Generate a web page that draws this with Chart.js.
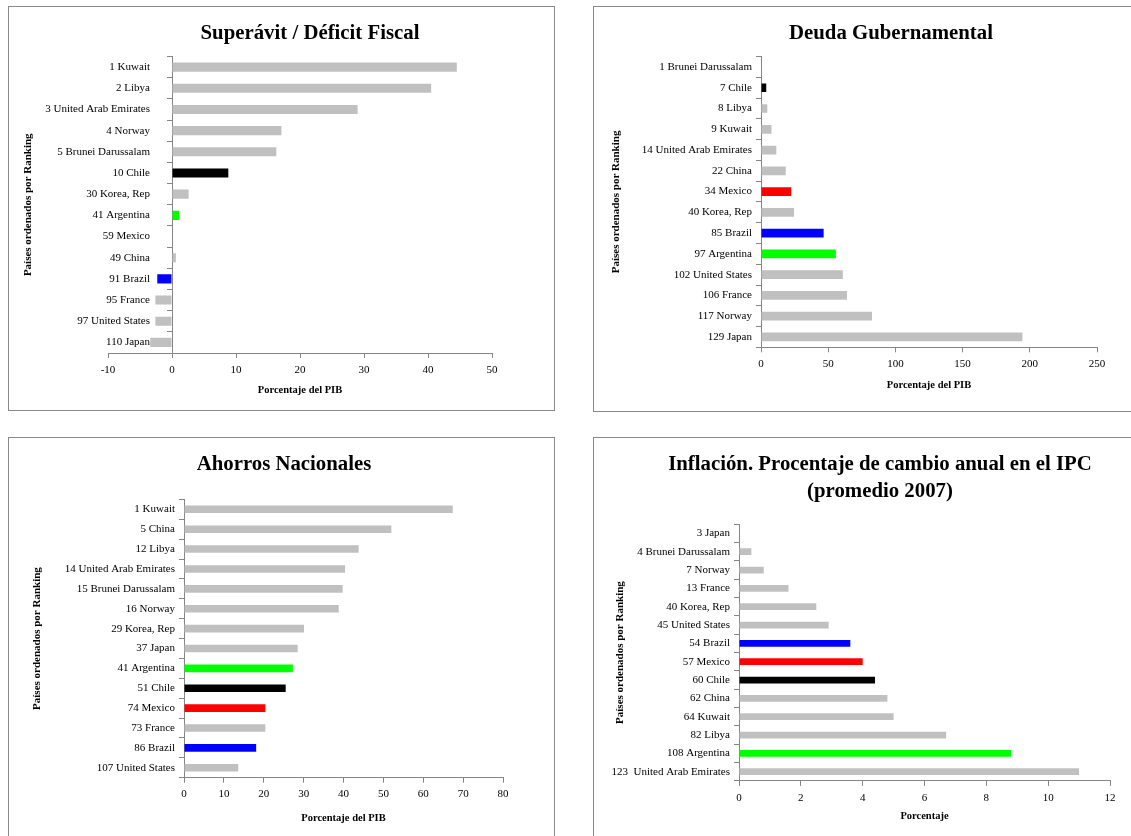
<!DOCTYPE html>
<html>
<head>
<meta charset="utf-8">
<script src="https://cdn.jsdelivr.net/npm/chart.js@4.4.1/dist/chart.umd.min.js"></script>
<style>
  html, body { margin: 0; padding: 0; background: #fff; width: 1131px; height: 836px; overflow: hidden; }
  .frame { position: absolute; border: 1px solid #8a8a8a; box-sizing: border-box; }
  canvas { position: absolute; }
</style>
</head>
<body>
<div class="frame" style="left:8px;top:6px;width:547px;height:405px"></div>
<div class="frame" style="left:593px;top:6px;width:547px;height:406px"></div>
<div class="frame" style="left:8px;top:437px;width:547px;height:420px"></div>
<div class="frame" style="left:593px;top:437px;width:547px;height:420px"></div>
<canvas id="fiscal"></canvas>
<canvas id="debt"></canvas>
<canvas id="savings"></canvas>
<canvas id="inflation"></canvas>
<script>
// ---- Superávit / Déficit Fiscal (% del PIB)
const fiscalLabels = ['1 Kuwait', '2 Libya', '3 United Arab Emirates', '4 Norway', '5 Brunei Darussalam',
  '10 Chile', '30 Korea, Rep', '41 Argentina', '59 Mexico', '49 China', '91 Brazil', '95 France',
  '97 United States', '110 Japan'];
const fiscalValues = [44.5, 40.5, 29.0, 17.1, 16.3, 8.8, 2.6, 1.1, 0, 0.6, -2.3, -2.6, -2.6, -3.4];
const fiscalTicks = [-10, 0, 10, 20, 30, 40, 50];

// ---- Deuda Gubernamental (% del PIB)
const debtLabels = ['1 Brunei Darussalam', '7 Chile', '8 Libya', '9 Kuwait', '14 United Arab Emirates',
  '22 China', '34 Mexico', '40 Korea, Rep', '85 Brazil', '97 Argentina', '102 United States',
  '106 France', '117 Norway', '129 Japan'];
const debtValues = [0, 3.9, 4.7, 7.8, 11.4, 18.4, 22.5, 24.6, 46.6, 55.7, 60.9, 64.0, 82.6, 194.5];
const debtTicks = [0, 50, 100, 150, 200, 250];

// ---- Ahorros Nacionales (% del PIB)
const savingsLabels = ['1 Kuwait', '5 China', '12 Libya', '14 United Arab Emirates', '15 Brunei Darussalam',
  '16 Norway', '29 Korea, Rep', '37 Japan', '41 Argentina', '51 Chile', '74 Mexico', '73 France',
  '86 Brazil', '107 United States'];
const savingsValues = [67.4, 52.0, 43.8, 40.4, 39.8, 38.8, 30.1, 28.5, 27.3, 25.5, 20.4, 20.4, 18.1, 13.6];
const savingsTicks = [0, 10, 20, 30, 40, 50, 60, 70, 80];

// ---- Inflación, % de cambio anual en el IPC (promedio 2007)
const inflationLabels = ['3 Japan', '4 Brunei Darussalam', '7 Norway', '13 France', '40 Korea, Rep',
  '45 United States', '54 Brazil', '57 Mexico', '60 Chile', '62 China', '64 Kuwait', '82 Libya',
  '108 Argentina', '123  United Arab Emirates'];
const inflationValues = [0, 0.4, 0.8, 1.6, 2.5, 2.9, 3.6, 4.0, 4.4, 4.8, 5.0, 6.7, 8.8, 11.0];
const inflationTicks = [0, 2, 4, 6, 8, 10, 12];

// Highlighted countries; every other bar is grey
const highlight = { Chile: '#000000', Argentina: '#00ff00', Brazil: '#0000ff', Mexico: '#ff0000' };
const GREY = '#c0c0c0';
const AXIS = '#868686';
const SERIF = "'Times New Roman', 'Liberation Serif', serif";
const TICK_SIZE = 11;
const AXIS_SIZE = 10.5;
const Y_AXIS_SIZE = 11;
const TITLE_SIZE = 20.8;
const TL = 5;
const Y_TITLE = 'Países ordenados por Ranking';

function barColours(labels) {
  return labels.map(l => highlight[l.replace(/^\d+\s+/, '').trim()] || GREY);
}

function makeChart(c) {
  const [ox, oy, W, H] = c.canvas;
  const L = c.area[0] - ox, T = c.area[1] - oy, R = c.area[2] - ox, B = c.area[3] - oy;
  const cv = document.getElementById(c.id);
  cv.width = W; cv.height = H;
  cv.style.left = ox + 'px'; cv.style.top = oy + 'px';
  cv.style.width = W + 'px'; cv.style.height = H + 'px';

  const lines = Array.isArray(c.title) ? c.title.length : 1;
  const titleLH = TITLE_SIZE * c.titleLH;
  const tTop = c.titleY - oy - titleLH / 2;
  const tBottom = T - tTop - lines * titleLH;
  const axisLH = AXIS_SIZE * 1.2;
  const yAxisLH = Y_AXIS_SIZE * 1.2;
  const tickLH = TICK_SIZE * 1.2;

  const tickFont = { family: SERIF, size: TICK_SIZE };
  const axisFont = { family: SERIF, size: AXIS_SIZE, weight: 'bold', lineHeight: 1.2 };
  const yAxisFont = { family: SERIF, size: Y_AXIS_SIZE, weight: 'bold', lineHeight: 1.2 };

  const yTitle = {
    display: true, text: Y_TITLE, color: '#000', font: yAxisFont,
    padding: { top: c.yTitleX - ox - yAxisLH / 2, bottom: 0 }
  };

  const scales = {
    x: {
      type: 'linear', position: 'bottom',
      min: c.ticks[0], max: c.ticks[c.ticks.length - 1],
      ticks: { stepSize: c.ticks[1] - c.ticks[0], color: '#000', font: tickFont, maxRotation: 0,
               padding: c.xTickY - oy - B - TL - tickLH / 2 },
      grid: { drawOnChartArea: false, color: AXIS, tickLength: TL },
      border: { color: AXIS },
      title: { display: true, text: c.xTitle, color: '#000', font: axisFont,
               padding: { top: 0, bottom: H - (c.xTitleY - oy) - axisLH / 2 } },
      afterFit: s => { s.height = H - B; }
    },
    yPad: {
      type: 'category', axis: 'y', position: 'right',
      grid: { display: false }, border: { display: false }, ticks: { display: false },
      afterFit: s => { s.width = W - R; }
    }
  };

  if (c.zeroAxis) {
    // category axis crosses the value axis at 0
    scales.y = {
      type: 'category', axis: 'y', position: { x: 0 }, offset: true,
      grid: { offset: true, drawOnChartArea: false, color: AXIS, tickLength: TL },
      border: { color: AXIS },
      ticks: { color: '#000', font: tickFont, autoSkip: false,
               callback: function (v) { return this.getLabelForValue(v) + '        '; } }
    };
    scales.yTitle = {
      type: 'category', axis: 'y', position: 'left',
      grid: { display: false }, border: { display: false }, ticks: { display: false },
      title: yTitle,
      afterFit: s => { s.width = L; }
    };
  } else {
    scales.y = {
      type: 'category', axis: 'y', position: 'left', offset: true,
      grid: { offset: true, drawOnChartArea: false, color: AXIS, tickLength: TL },
      border: { color: AXIS },
      ticks: { color: '#000', font: tickFont, autoSkip: false, padding: 4 },
      title: yTitle,
      afterFit: s => { s.width = L; }
    };
  }

  return new Chart(cv, {
    type: 'bar',
    data: {
      labels: c.labels,
      datasets: [{
        data: c.values,
        backgroundColor: barColours(c.labels),
        borderWidth: 0,
        barPercentage: c.barPct,
        categoryPercentage: 1
      }]
    },
    options: {
      indexAxis: 'y',
      responsive: false,
      animation: false,
      layout: { padding: 0 },
      plugins: {
        legend: { display: false },
        tooltip: { enabled: false },
        title: {
          display: true, text: c.title, color: '#000',
          font: { family: SERIF, size: TITLE_SIZE, weight: 'bold', lineHeight: c.titleLH },
          padding: { top: tTop, bottom: tBottom }
        }
      },
      scales
    }
  });
}

makeChart({
  id: 'fiscal', title: 'Superávit / Déficit Fiscal', xTitle: 'Porcentaje del PIB',
  labels: fiscalLabels, values: fiscalValues, ticks: fiscalTicks,
  canvas: [8, 6, 604, 405], area: [108, 56.5, 492, 353],
  titleY: 33.3, titleLH: 1.2, xTickY: 370, xTitleY: 390.7, yTitleX: 28.5,
  barPct: 0.43, zeroAxis: true
});
makeChart({
  id: 'debt', title: 'Deuda Gubernamental', xTitle: 'Porcentaje del PIB',
  labels: debtLabels, values: debtValues, ticks: debtTicks,
  canvas: [593, 6, 596, 406], area: [761, 56.6, 1097, 347.3],
  titleY: 33.3, titleLH: 1.2, xTickY: 364, xTitleY: 385, yTitleX: 616,
  barPct: 0.42
});
makeChart({
  id: 'savings', title: 'Ahorros Nacionales', xTitle: 'Porcentaje del PIB',
  labels: savingsLabels, values: savingsValues, ticks: savingsTicks,
  canvas: [8, 437, 552, 399], area: [184, 499.4, 503, 777.7],
  titleY: 465, titleLH: 1.2, xTickY: 794.3, xTitleY: 818, yTitleX: 37,
  barPct: 0.38
});
makeChart({
  id: 'inflation',
  title: ['Inflación. Procentaje de cambio anual en el IPC', '(promedio 2007)'],
  xTitle: 'Porcentaje',
  labels: inflationLabels, values: inflationValues, ticks: inflationTicks,
  canvas: [593, 437, 574, 399], area: [739, 524.2, 1110, 780.9],
  titleY: 465, titleLH: 1.3, xTickY: 797.7, xTitleY: 816.7, yTitleX: 620,
  barPct: 0.37
});
</script>
</body>
</html>
